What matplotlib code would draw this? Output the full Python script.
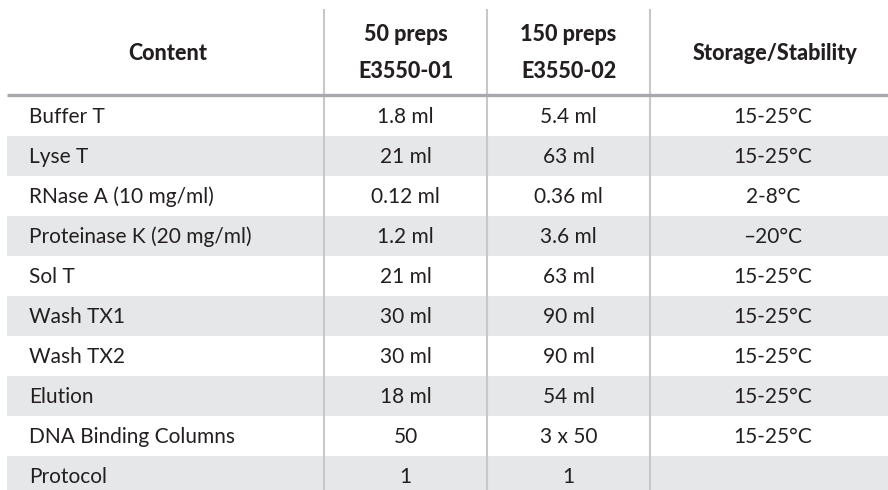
import matplotlib
matplotlib.use("Agg")
import matplotlib.pyplot as plt

plt.rcParams['font.family'] = ['Lato', 'DejaVu Sans']

# ---- data ----
headers = ["Content", "50 preps\nE3550-01", "150 preps\nE3550-02", "Storage/Stability"]
contents = ["Buffer T", "Lyse T", "RNase A (10 mg/ml)", "Proteinase K (20 mg/ml)", "Sol T",
            "Wash TX1", "Wash TX2", "Elution", "DNA Binding Columns", "Protocol"]
preps_50 = ["1.8 ml", "21 ml", "0.12 ml", "1.2 ml", "21 ml", "30 ml", "30 ml", "18 ml", "50", "1"]
preps_150 = ["5.4 ml", "63 ml", "0.36 ml", "3.6 ml", "63 ml", "90 ml", "90 ml", "54 ml", "3 x 50", "1"]
storage = ["15-25°C", "15-25°C", "2-8°C", "\u201320°C", "15-25°C", "15-25°C", "15-25°C",
           "15-25°C", "15-25°C", ""]

# ---- layout (pixels) ----
W, H = 888, 490
fig = plt.figure(figsize=(W / 100, H / 100), dpi=100)
ax = fig.add_axes([0, 0, 1, 1])
ax.set_xlim(0, W)
ax.set_ylim(H, 0)
ax.axis('off')

left, right = 7, W
col_edges = [left, 324, 487, 650, right]
header_bottom = 95.5
row_h = 40
txt_color = "#231f20"
band = "#e6e7e8"

for i in range(len(contents)):
    top = header_bottom + i * row_h
    if i % 2 == 1:
        ax.fill_between([left, right], top, top + row_h, color=band, lw=0, zorder=0)

# header line
ax.plot([left, right], [header_bottom, header_bottom], color="#a7a9ac", lw=2.4, zorder=3,
        solid_capstyle='butt')
# vertical separators
for x in col_edges[1:-1]:
    ax.plot([x, x], [9, H], color="#c7c8ca", lw=1.5, zorder=2, solid_capstyle='butt')

# header text
hcenters = [168, 405.5, 568.5, 775]
for h, xc in zip(headers, hcenters):
    ax.text(xc, 53, h, ha='center', va='center', fontsize=15.5, fontweight='black',
            color=txt_color, linespacing=1.95)

# body text
fs = 15
for i in range(len(contents)):
    yc = header_bottom + i * row_h + row_h / 2 + 1
    ax.text(29, yc, contents[i], ha='left', va='center', fontsize=fs, color=txt_color)
    ax.text(405.5, yc, preps_50[i], ha='center', va='center', fontsize=fs, color=txt_color)
    ax.text(568.5, yc, preps_150[i], ha='center', va='center', fontsize=fs, color=txt_color)
    ax.text(773, yc, storage[i], ha='center', va='center', fontsize=fs, color=txt_color)

fig.savefig("out.png", dpi=100)
